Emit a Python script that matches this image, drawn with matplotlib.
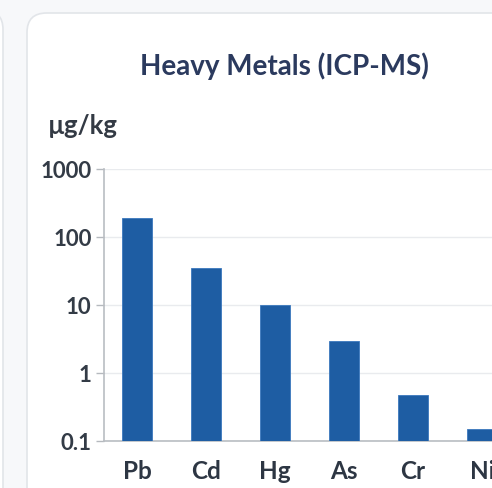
import matplotlib
matplotlib.use("Agg")
import matplotlib.pyplot as plt
from matplotlib.patches import FancyBboxPatch

metals = ["Pb", "Cd", "Hg", "As", "Cr", "Ni"]
concentration = [190, 35, 10, 3.0, 0.48, 0.15]  # µg/kg
y_ticks = [0.1, 1, 10, 100, 1000]
y_tick_labels = ["0.1", "1", "10", "100", "1000"]

W, H = 492, 488
fig = plt.figure(figsize=(W / 100, H / 100), dpi=100)
fig.patch.set_facecolor("#f7f8fa")
plt.rcParams["font.family"] = ["Lato", "DejaVu Sans"]

def px_box(x0, y0, x1, y1, **kw):
    return FancyBboxPatch((x0 / W, 1 - y1 / H), (x1 - x0) / W, (y1 - y0) / H,
                          transform=fig.transFigure, zorder=-10, **kw)

# neighbouring card on the left and the chart card
fig.patches.append(px_box(-200, 10, 3, 600, boxstyle="round,pad=0,rounding_size=0.04",
                          facecolor="#ffffff", edgecolor="#e2e5e9", linewidth=1.2))
fig.patches.append(px_box(27, 13, 700, 600, boxstyle="round,pad=0,rounding_size=0.04",
                          facecolor="#ffffff", edgecolor="#e2e5e9", linewidth=1.2))

ax = fig.add_axes([104 / W, 1 - 441 / H, 425 / W, (441 - 169) / H])
ax.set_zorder(5)
ax.set_facecolor("none")
ax.set_yscale("log")
x = list(range(len(metals)))
ax.bar(x, concentration, width=0.44, color="#1e5da3", edgecolor="#3b78bd",
       linewidth=0.6, zorder=3)
ax.set_ylim(0.1, 1000)
ax.set_xlim(-0.48, 5.68)
ax.set_yticks(y_ticks)
ax.set_yticklabels(y_tick_labels)
ax.minorticks_off()
ax.set_xticks(x)
ax.set_xticklabels(metals)
ax.tick_params(axis="y", length=6, color="#b5b9be", width=1, pad=3,
               labelsize=16, labelcolor="#333b46")
ax.tick_params(axis="x", length=0, pad=14, labelsize=17.5, labelcolor="#2d3643")
for lbl in ax.get_yticklabels() + ax.get_xticklabels():
    lbl.set_fontweight("bold")
ax.grid(axis="y", color="#e9ebee", linewidth=1, zorder=0)
for s in ["top", "right"]:
    ax.spines[s].set_visible(False)
for s in ["left", "bottom"]:
    ax.spines[s].set_color("#b9bdc2")
    ax.spines[s].set_linewidth(1.2)

fig.text(284 / W, 1 - 66 / H, "Heavy Metals (ICP-MS)", ha="center", va="center",
         fontsize=20, fontweight="bold", color="#2b3a5e")
fig.text(48 / W, 1 - 126 / H, "µg/kg", ha="left", va="center",
         fontsize=18.5, fontweight="bold", color="#333a44")

fig.savefig("out.png", dpi=100, facecolor=fig.get_facecolor())
